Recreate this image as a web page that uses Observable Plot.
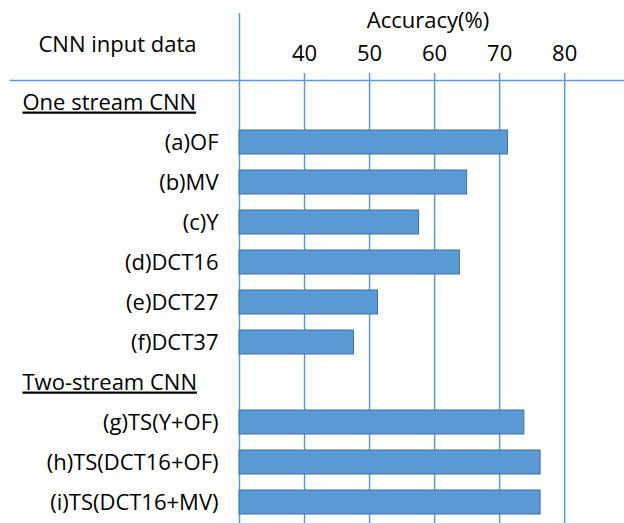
<!DOCTYPE html>
<html><head><meta charset="utf-8">
<script src="https://cdn.jsdelivr.net/npm/d3@7"></script>
<script src="https://cdn.jsdelivr.net/npm/@observablehq/plot@0.6"></script>
<style>
body{margin:0;background:#fff;}
.hdr text{ text-decoration: underline; }
</style></head><body><div id="chart"></div>
<script>
// Data
const categories = ["One stream CNN","(a)OF","(b)MV","(c)Y","(d)DCT16","(e)DCT27","(f)DCT37","Two-stream CNN","(g)TS(Y+OF)","(h)TS(DCT16+OF)","(i)TS(DCT16+MV)"];
const groupHeaders = ["One stream CNN","Two-stream CNN"];
const barLabels = ["(a)OF","(b)MV","(c)Y","(d)DCT16","(e)DCT27","(f)DCT37","(g)TS(Y+OF)","(h)TS(DCT16+OF)","(i)TS(DCT16+MV)"];
const accuracy = [71.3,65.0,57.6,63.9,51.3,47.6,73.8,76.3,76.3];
const xTicks = [40,50,60,70,80];
const xDomain = [30, 89.2];
const xTitle = "Accuracy(%)";
const yTitle = "CNN input data";

const data = barLabels.map((label, i) => ({label, value: accuracy[i]}));
const lineColor = "#5B9BD5";
const font = "'Open Sans', sans-serif";

const plot = Plot.plot({
  width: 624, height: 523,
  marginLeft: 239, marginRight: 0, marginTop: 80, marginBottom: 0,
  style: {fontFamily: font, fontSize: "22px", color: "#000", background: "#fff", overflow: "visible"},
  x: {domain: xDomain},
  y: {domain: categories, paddingInner: 0.4, paddingOuter: 0.2},
  marks: [
    Plot.ruleX(xTicks, {stroke: lineColor, strokeWidth: 1.5}),
    Plot.ruleX([xDomain[0]], {stroke: lineColor, strokeWidth: 1.5, insetTop: -67}),
    Plot.frame({anchor: "top", stroke: lineColor, strokeWidth: 1.5, insetLeft: -229}),
    Plot.axisX({anchor: "top", ticks: xTicks, tickSize: 8, tickPadding: 12, stroke: lineColor, strokeWidth: 1.5, label: null, fontSize: 22}),
    Plot.axisY({ticks: barLabels, tickSize: 0, tickPadding: 21, label: null, fontSize: 22}),
    Plot.barX(data, {x1: () => xDomain[0], x2: "value", y: "label", fill: "#5B9BD5", stroke: "#41719C", strokeWidth: 1}),
    Plot.text(groupHeaders, {y: d => d, frameAnchor: "left", textAnchor: "start", dx: -217, className: "hdr", fontSize: 22}),
    Plot.text([xTitle], {frameAnchor: "top", textAnchor: "middle", lineAnchor: "middle", dx: -4, dy: -60, fontSize: 22}),
    Plot.text([yTitle], {frameAnchor: "top-left", textAnchor: "middle", lineAnchor: "middle", dx: -122, dy: -36, fontSize: 22})
  ]
});
document.getElementById("chart").appendChild(plot);
</script>
</body></html>
